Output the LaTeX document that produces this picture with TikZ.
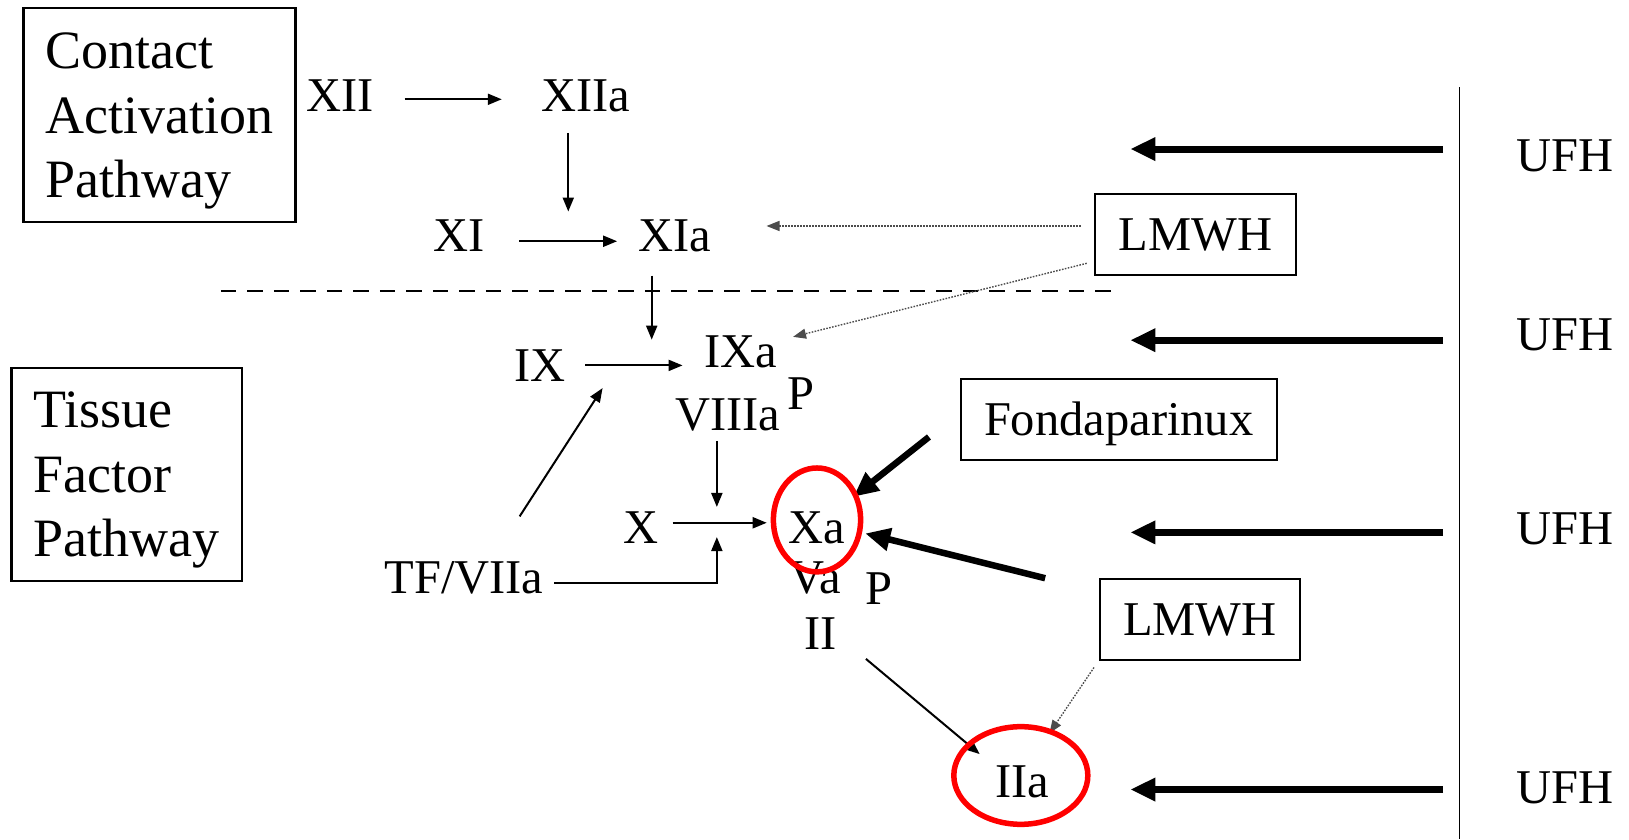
\documentclass[tikz,border=0pt]{standalone}
\usepackage{fontspec}
\setmainfont{LiberationSerif}[Extension=.ttf, UprightFont=*-Regular, BoldFont=*-Bold]
\usetikzlibrary{arrows.meta,calc}
\begin{document}
\begin{tikzpicture}[x=1.039pt,y=-1.039pt,
  lbl/.style={inner sep=0pt, anchor=base west, font=\fontsize{48.5}{58}\selectfont},
  pathbox/.style={draw, line width=2.2pt, anchor=north west, align=left,
    inner sep=0pt, text depth=0pt, font=\fontsize{54}{64.4}\selectfont},
  drugbox/.style={draw, line width=2pt, inner sep=0pt, minimum height=81pt,
    text height=32pt, text depth=0pt, font=\fontsize{48.5}{58}\selectfont},
  flow/.style={line width=2pt, -{Triangle[length=14pt,width=11pt]}},
  weak/.style={line width=1.4pt, black!70, dash pattern=on 1.6pt off 1.4pt,
    -{Triangle[length=13pt,width=10pt]}},
  block/.style={line width=7pt, -{Triangle[length=25pt,width=22pt]}},
  ring/.style={red, line width=5.5pt}]
\useasboundingbox (0,0) rectangle (1568,808);

% pathway boxes
\node[pathbox, minimum width=272pt, minimum height=214pt] (contact) at (21.5,7)
  {Contact\\Activation\\Pathway};
\node[pathbox, minimum width=230.7pt, minimum height=213pt] (tissue) at (10,353)
  {Tissue\\Factor\\Pathway};

% coagulation factors
\node[lbl] (XII)   at (294.5,107) {XII};
\node[lbl] (XIIa)  at (521,107)   {XIIa};
\node[lbl] (XI)    at (417,242)   {XI};
\node[lbl] (XIa)   at (614.5,242) {XIa};
\node[lbl] (IX)    at (495,367)   {IX};
\node[lbl] (IXa)   at (678,354)   {IXa};
\node[lbl] (P1)    at (758,394.6) {P};
\node[lbl] (VIIIa) at (650,414)   {VIIIa};
\node[lbl] (X)     at (600,523)   {X};
\node[lbl] (Xa)    at (759,523)   {Xa};
\node[lbl] (Va)    at (760,571)   {Va};
\node[lbl] (P2)    at (833,582)   {P};
\node[lbl] (II)    at (774,625.6) {II};
\node[lbl] (IIa)   at (958,768)   {IIa};
\node[lbl] (TF)    at (370,571)   {TF/VIIa};

% anticoagulants
\node[drugbox, minimum width=200.5pt] (L1) at (1150.5,225.5) {LMWH};
\node[drugbox, minimum width=199.5pt] (L2) at (1155,596.5)   {LMWH};
\node[drugbox, minimum width=316pt]   (F)  at (1076.8,404)   {Fondaparinux};
\node[lbl] (U1) at (1459.5,165) {UFH};
\node[lbl] (U2) at (1459.5,337) {UFH};
\node[lbl] (U3) at (1459.5,524) {UFH};
\node[lbl] (U4) at (1459.5,773) {UFH};

% junctions on the activation arrows
\coordinate (j1) at (547,232);
\coordinate (j2) at (627.3,351);
\coordinate (j3) at (594.6,351);
\coordinate (j4) at (690,503);

% boundary between the two pathways
\draw[line width=2pt, dash pattern=on 15.5pt off 11pt] (212.7,280.5) -- (1071.5,280.5);
% UFH separator
\draw[line width=1.6pt] (1405,84) -- (1405,808);

% activation cascade
\draw[flow, shorten <=31pt, shorten >=39.5pt] ([yshift=-4pt]XII.east) -- ([yshift=-4pt]XII.east -| XIIa.west);
\draw[flow, shorten <=21pt, shorten >=29.5pt] (XIIa.south -| j1) -- (j1);
\draw[flow, shorten <=34.6pt, shorten >=21.3pt] ([yshift=-5.7pt]XI.east) -- ([yshift=-5.7pt]XI.east -| XIa.west);
\draw[flow, shorten <=23.6pt, shorten >=25pt] (XIa.south -| j2) -- (j2);
\draw[flow, shorten <=19.4pt, shorten >=21.8pt] (IX.east) -- (IX.east -| IXa.west);
\draw[flow, shorten >=27.9pt] ([shift={(53.5,-43)}]TF.north) -- (j3);
\draw[flow, shorten <=9.9pt, shorten >=15.6pt] (VIIIa.south -| j4) -- (j4);
\draw[flow, shorten <=13.8pt, shorten >=21.8pt] ([yshift=4.7pt]X.east) -- ([yshift=4.7pt]X.east -| Xa.west);
\draw[flow, shorten <=10.4pt, shorten >=14.5pt] ([yshift=-5.7pt]TF.east) -| (j4);
\draw[flow] ([shift={(28,8.4)}]II.south east) -- ([shift={(-15,-11.4)}]IIa.north west);

% weak inhibition by LMWH
\draw[weak, shorten <=13.5pt, shorten >=55pt] ([yshift=8.3pt]L1.west) -- ([yshift=8.3pt]L1.west -| XIa.east);
\draw[weak] ([shift={(-7,-12)}]L1.south west) -- ([shift={(15,1)}]IXa.north east);
\draw[weak] ([shift={(-5,6)}]L2.south west) -- ([shift={(0,-31.5)}]IIa.north east);

% strong inhibition
\draw[block, line width=6.5pt] ([shift={(-29.6,16.6)}]F.west) -- ([shift={(7.6,-14)}]Xa.north east);
\draw[block, line width=6.5pt] ([shift={(-52,0)}]L2.north west) -- ([shift={(19,5.5)}]Xa.east);
\draw[block] ([shift={(-70.5,-6.5)}]U1.west) -- ++(-301,0);
\draw[block] ([shift={(-70.5,5.5)}]U2.west) -- ++(-301,0);
\draw[block] ([shift={(-70.5,3.5)}]U3.west) -- ++(-301,0);
\draw[block] ([shift={(-70.5,2)}]U4.west) -- ++(-301,0);

% targets of the drugs
\draw[ring] ([shift={(0,-7.5)}]Xa.center) ellipse [x radius=42, y radius=50];
\draw[ring] ([shift={(-1.5,-6.5)}]IIa.center) ellipse [x radius=64.5, y radius=47];
\end{tikzpicture}
\end{document}
